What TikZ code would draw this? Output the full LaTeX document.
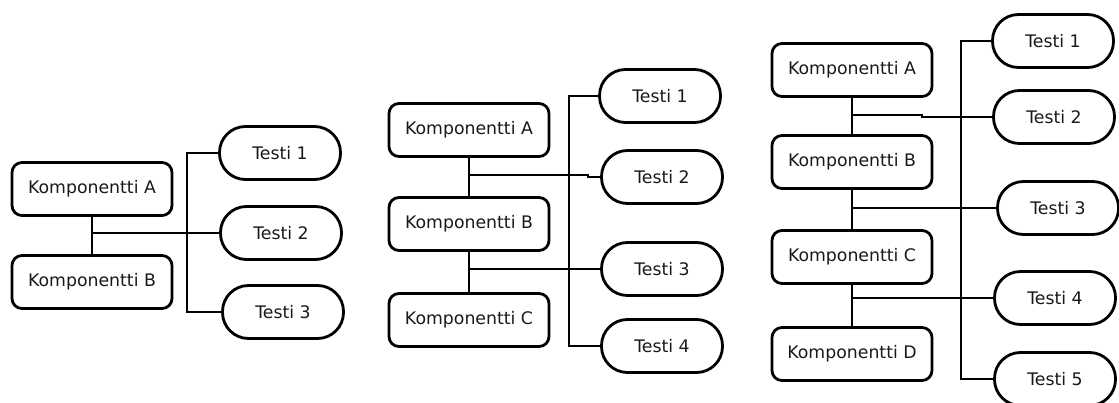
\documentclass[tikz,border=0pt]{standalone}
\usepackage{fontspec}
\setmainfont{DejaVu Sans}
\definecolor{ink}{RGB}{25,25,25}
\begin{document}
\begin{tikzpicture}[x=1pt,y=-1pt,
  comp/.style={draw, line width=2.8pt, rounded corners=10pt, minimum width=160pt,
    minimum height=53pt, inner sep=0pt, text=ink, font=\fontsize{17.3}{20}\selectfont},
  testbox/.style={draw, line width=2.8pt, rounded corners=26pt, minimum width=121pt,
    minimum height=53pt, inner sep=0pt, text=ink, font=\fontsize{17.3}{20}\selectfont},
  wire/.style={line width=2.8pt}]
\useasboundingbox (0,0) rectangle (1119,403);
\clip (0,0) rectangle (1119,403);

% ---- two components, three tests
\node[comp] (A1) at (92,189) {Komponentti A};
\node[comp] (B1) at (92,282) {Komponentti B};
\node[testbox] (T11) at (280,153) {Testi 1};
\node[testbox] (T12) at (281,233) {Testi 2};
\node[testbox] (T13) at (283,312) {Testi 3};
\coordinate (bus1) at (187,0);
\draw[wire] (A1.south) -- (B1.north);
\draw[wire] (A1.south |- T12.west) -- (T12.west);
\draw[wire] (T11.west) -- (bus1 |- T11.west) -- (bus1 |- T13.west) -- (T13.west);

% ---- three components, four tests
\node[comp] (A2) at (469,130) {Komponentti A};
\node[comp] (B2) at (469,224) {Komponentti B};
\node[comp] (C2) at (469,320) {Komponentti C};
\node[testbox] (T21) at (660,96) {Testi 1};
\node[testbox] (T22) at (662,177) {Testi 2};
\node[testbox] (T23) at (662,269) {Testi 3};
\node[testbox] (T24) at (662,346) {Testi 4};
\coordinate (bus2) at (569,0);
\coordinate (j2a) at (469,175);
\coordinate (k2a) at (588,175);
\draw[wire] (A2.south) -- (B2.north);
\draw[wire] (B2.south) -- (C2.north);
\draw[wire] (j2a) -- (k2a) |- (T22.west);
\draw[wire] (B2.south |- T23.west) -- (T23.west);
\draw[wire] (T21.west) -- (bus2 |- T21.west) -- (bus2 |- T24.west) -- (T24.west);

% ---- four components, five tests
\node[comp] (A3) at (852,70) {Komponentti A};
\node[comp] (B3) at (852,162) {Komponentti B};
\node[comp] (C3) at (852,257) {Komponentti C};
\node[comp] (D3) at (852,354) {Komponentti D};
\node[testbox] (T31) at (1053,41) {Testi 1};
\node[testbox] (T32) at (1054,117) {Testi 2};
\node[testbox] (T33) at (1058,208) {Testi 3};
\node[testbox] (T34) at (1055,298) {Testi 4};
\node[testbox] (T35) at (1055,379) {Testi 5};
\coordinate (bus3) at (961,0);
\coordinate (j3a) at (852,115);
\coordinate (k3a) at (922,115);
\draw[wire] (A3.south) -- (B3.north);
\draw[wire] (B3.south) -- (C3.north);
\draw[wire] (C3.south) -- (D3.north);
\draw[wire] (j3a) -- (k3a) |- (T32.west);
\draw[wire] (B3.south |- T33.west) -- (T33.west);
\draw[wire] (C3.south |- T34.west) -- (T34.west);
\draw[wire] (T31.west) -- (bus3 |- T31.west) -- (bus3 |- T35.west) -- (T35.west);
\end{tikzpicture}
\end{document}
